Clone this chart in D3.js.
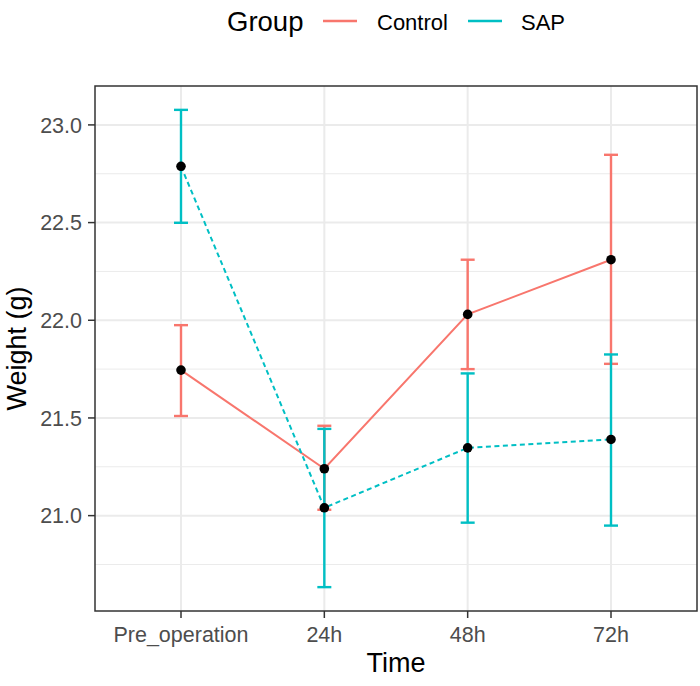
<!DOCTYPE html>
<html><head><meta charset="utf-8">
<script src="https://cdn.jsdelivr.net/npm/d3@7"></script>
<style>body{margin:0;background:#fff;} text{font-family:"Liberation Sans",Arial,sans-serif;}</style>
</head><body><svg id="c" width="700" height="686"></svg>
<script>
const times = ["Pre_operation", "24h", "48h", "72h"];
const groups = ["Control", "SAP"];
const controlMean = [21.745, 21.24, 22.03, 22.31];
const controlLower = [21.51, 21.03, 21.75, 21.777];
const controlUpper = [21.975, 21.46, 22.31, 22.847];
const sapMean = [22.788, 21.04, 21.347, 21.39];
const sapLower = [22.499, 20.634, 20.964, 20.949];
const sapUpper = [23.077, 21.444, 21.728, 21.825];
const yTicks = [21.0, 21.5, 22.0, 22.5, 23.0];
const yMinor = [20.75, 21.25, 21.75, 22.25, 22.75];
const colors = {Control: "#F8766D", SAP: "#00BFC4"};

const series = [
  {name: "Control", mean: controlMean, lo: controlLower, hi: controlUpper, dash: null},
  {name: "SAP", mean: sapMean, lo: sapLower, hi: sapUpper, dash: "5,3.5"}
];

const svg = d3.select("#c");
const L = 95, R = 697, T = 86, B = 611;

const allVals = controlLower.concat(controlUpper, sapLower, sapUpper);
const ymin = d3.min(allVals), ymax = d3.max(allVals);
const pad = (ymax - ymin) * 0.05;
const y = d3.scaleLinear().domain([ymin - pad, ymax + pad]).range([B, T]);
const x = d3.scalePoint().domain(times).range([L, R]).padding(0.6);

// panel bg
svg.append("rect").attr("x", L).attr("y", T).attr("width", R - L).attr("height", B - T).attr("fill", "#fff");

// grid
const g = svg.append("g");
g.selectAll(".ymin").data(yMinor).join("line")
  .attr("x1", L).attr("x2", R).attr("y1", d => y(d)).attr("y2", d => y(d))
  .attr("stroke", "#EBEBEB").attr("stroke-width", 1);
g.selectAll(".ymaj").data(yTicks).join("line")
  .attr("x1", L).attr("x2", R).attr("y1", d => y(d)).attr("y2", d => y(d))
  .attr("stroke", "#EBEBEB").attr("stroke-width", 2);
g.selectAll(".xmaj").data(times).join("line")
  .attr("y1", T).attr("y2", B).attr("x1", d => x(d)).attr("x2", d => x(d))
  .attr("stroke", "#EBEBEB").attr("stroke-width", 2);

// error bars
series.forEach(s => {
  const eg = svg.append("g").attr("stroke", colors[s.name]).attr("stroke-width", 2.4).attr("fill", "none");
  times.forEach((t, i) => {
    const cx = x(t);
    eg.append("line").attr("x1", cx).attr("x2", cx).attr("y1", y(s.lo[i])).attr("y2", y(s.hi[i]));
    eg.append("line").attr("x1", cx - 7).attr("x2", cx + 7).attr("y1", y(s.lo[i])).attr("y2", y(s.lo[i]));
    eg.append("line").attr("x1", cx - 7).attr("x2", cx + 7).attr("y1", y(s.hi[i])).attr("y2", y(s.hi[i]));
  });
});

// lines
series.forEach(s => {
  const line = d3.line().x((d, i) => x(times[i])).y(d => y(d));
  svg.append("path").datum(s.mean).attr("d", line)
    .attr("fill", "none").attr("stroke", colors[s.name]).attr("stroke-width", 2)
    .attr("stroke-dasharray", s.dash);
});

// points
series.forEach(s => {
  svg.append("g").selectAll("circle").data(s.mean).join("circle")
    .attr("cx", (d, i) => x(times[i])).attr("cy", d => y(d)).attr("r", 4.8).attr("fill", "#000");
});

// panel border
svg.append("rect").attr("x", L).attr("y", T).attr("width", R - L).attr("height", B - T)
  .attr("fill", "none").attr("stroke", "#333333").attr("stroke-width", 1.5);

// y axis
const ya = svg.append("g");
ya.selectAll("line").data(yTicks).join("line")
  .attr("x1", L - 7).attr("x2", L).attr("y1", d => y(d)).attr("y2", d => y(d))
  .attr("stroke", "#333333").attr("stroke-width", 1.5);
ya.selectAll("text").data(yTicks).join("text")
  .attr("x", L - 13).attr("y", d => y(d)).attr("dy", "0.36em").attr("text-anchor", "end")
  .attr("font-size", 21.5).attr("fill", "#4D4D4D").text(d => d3.format(".1f")(d));

// x axis
const xa = svg.append("g");
xa.selectAll("line").data(times).join("line")
  .attr("x1", d => x(d)).attr("x2", d => x(d)).attr("y1", B).attr("y2", B + 7)
  .attr("stroke", "#333333").attr("stroke-width", 1.5);
xa.selectAll("text").data(times).join("text")
  .attr("x", d => x(d)).attr("y", B + 31).attr("text-anchor", "middle")
  .attr("font-size", 21.5).attr("fill", "#4D4D4D").text(d => d);

// axis titles
svg.append("text").attr("x", (L + R) / 2).attr("y", 672).attr("text-anchor", "middle")
  .attr("font-size", 27).attr("fill", "#000").text("Time");
svg.append("text").attr("transform", `translate(26,${(T + B) / 2}) rotate(-90)`)
  .attr("text-anchor", "middle").attr("font-size", 27).attr("fill", "#000").text("Weight (g)");

// legend
const lg = svg.append("g");
lg.append("text").attr("x", 227).attr("y", 31).attr("font-size", 27.5).attr("fill", "#000").text("Group");
const keyX = [323, 468], txtX = [377, 521];
groups.forEach((gname, i) => {
  lg.append("line").attr("x1", keyX[i]).attr("x2", keyX[i] + 34).attr("y1", 21).attr("y2", 21)
    .attr("stroke", colors[gname]).attr("stroke-width", 2.5);
  lg.append("text").attr("x", txtX[i]).attr("y", 29.5).attr("font-size", 22).attr("fill", "#000").text(gname);
});
</script></body></html>
